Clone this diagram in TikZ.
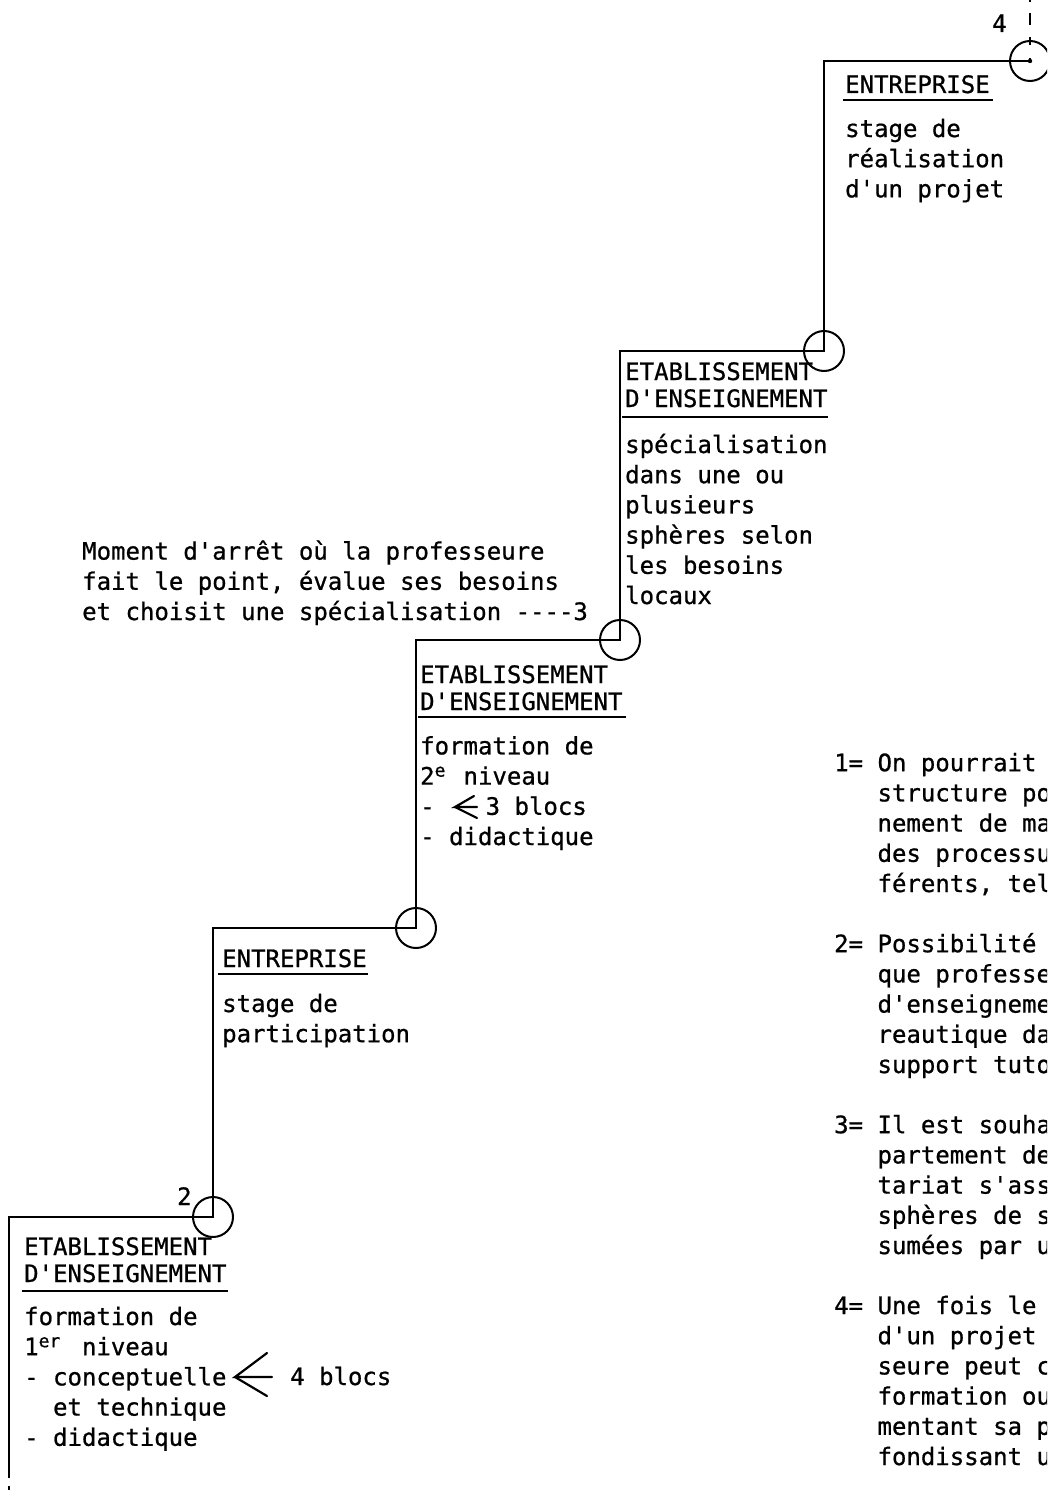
\documentclass[tikz,border=0pt]{standalone}
\usepackage{fontspec}
\setmonofont{DejaVu Sans Mono}[FakeBold=0.8]
% raised small letters that fill #1 typewriter cells
\newcommand{\supx}[2]{\makebox[#1\dimexpr 14.45pt\relax][l]{\raisebox{8pt}{\fontsize{18}{18}\selectfont #2}}}
\begin{document}
\begin{tikzpicture}[x=1pt,y=-1pt,
  body/.style={font=\ttfamily\fontsize{24}{30.2}\selectfont, inner sep=0pt, anchor=base west, align=left},
  head/.style={font=\ttfamily\fontsize{24}{27}\selectfont, inner sep=0pt, anchor=base west, align=left},
  stair/.style={line width=2.8pt},
  joint/.style={circle, draw, line width=2pt, minimum size=40pt, inner sep=0pt},
  underrule/.style={line width=1.8pt},
  prong/.style={line width=2.2pt, line cap=round}]
\useasboundingbox (0,0) rectangle (1047,1490);
\begin{scope}
\clip (0,0) rectangle (1047,1490);

% corners of the staircase
\coordinate (s0) at (9,1478);
\coordinate (s0b) at (9,1217);
\coordinate (c1) at (213,1217);
\coordinate (s1b) at (213,928);
\coordinate (c2) at (416,928);
\coordinate (s2b) at (416,640);
\coordinate (c3) at (620,640);
\coordinate (s3b) at (620,351);
\coordinate (c4) at (824,351);
\coordinate (s4b) at (824,61);
\coordinate (c5) at (1030,61);
\coordinate (top) at (1030,0);
\coordinate (tail0) at (9,1486);
\coordinate (tail1) at (9,1492);

% staircase
\draw[stair] (s0) -- (s0b) -- (c1) -- (s1b) -- (c2) -- (s2b) -- (c3)
  -- (s3b) -- (c4) -- (s4b) -- (c5);
\draw[stair] (tail0) -- (tail1);
\draw[stair, dash pattern=on 3pt off 13pt on 8pt off 12pt on 12pt off 11pt on 4pt] (c5) -- (top);
\fill (c5) circle (2.2pt);

% junction circles
\node[joint] (k1) at (c1) {};
\node[joint] (k2) at (c2) {};
\node[joint] (k3) at (c3) {};
\node[joint] (k4) at (c4) {};
\node[joint] (k5) at (c5) {};

\node[body] (n2) at (177,1205) {2};
\node[body] (n4) at (992,32) {4};

% step 1 (multi-line nodes are anchored at the baseline of their last line)
\node[head] (h1) at (24,1282) {ETABLISSEMENT\\D'ENSEIGNEMENT};
\draw[underrule] (22,1291) -- (228,1291);
\node[body] (b1) at (24,1445.8) {formation de\\1\supx{2}{er} niveau\\- conceptuelle\\\hphantom{- }et technique\\- didactique};
\draw[prong] (267,1353) -- (235,1377) -- (272,1377);
\draw[prong] (235,1377) -- (267,1396);
\node[body] (bl4) at (290,1385) {4 blocs};

% step 2
\node[head] (h2) at (222,967) {ENTREPRISE};
\draw[underrule] (218,974) -- (368,974);
\node[body] (b2) at (222,1042.2) {stage de\\participation};

% step 3
\node[head] (h3) at (420,710) {ETABLISSEMENT\\D'ENSEIGNEMENT};
\draw[underrule] (418,717) -- (626,717);
\node[body] (b3) at (420,845) {formation de\\2\supx{1}{e} niveau\\-\hspace*{51pt}3 blocs\\- didactique};
\draw[prong] (474,796) -- (455,807) -- (477,807);
\draw[prong] (455,807) -- (477,818);

% step 4
\node[head] (h4) at (625,407) {ETABLISSEMENT\\D'ENSEIGNEMENT};
\draw[underrule] (622,417) -- (828,417);
\node[body] (b4) at (625,604) {spécialisation\\dans une ou\\plusieurs\\sphères selon\\les besoins\\locaux};

% step 5
\node[head] (h5) at (845,93) {ENTREPRISE};
\draw[underrule] (843,100) -- (993,100);
\node[body] (b5) at (845,197.4) {stage de\\réalisation\\d'un projet};

% pause note
\node[body] (pause) at (82,620) {Moment d'arrêt où la professeure\\fait le point, évalue ses besoins\\et choisit une spécialisation ----3};

% side notes
\node[body] (r1) at (834,892) {1= On pourrait\\\hphantom{1= }structure po\\\hphantom{1= }nement de ma\\\hphantom{1= }des processu\\\hphantom{1= }férents, tel};
\node[body] (r2) at (834,1073) {2= Possibilité\\\hphantom{2= }que professe\\\hphantom{2= }d'enseigneme\\\hphantom{2= }reautique da\\\hphantom{2= }support tuto};
\node[body] (r3) at (834,1254) {3= Il est souha\\\hphantom{3= }partement de\\\hphantom{3= }tariat s'ass\\\hphantom{3= }sphères de s\\\hphantom{3= }sumées par u};
\node[body] (r4) at (834,1465) {4= Une fois le\\\hphantom{4= }d'un projet\\\hphantom{4= }seure peut c\\\hphantom{4= }formation ou\\\hphantom{4= }mentant sa p\\\hphantom{4= }fondissant u};
\end{scope}
\end{tikzpicture}
\end{document}
